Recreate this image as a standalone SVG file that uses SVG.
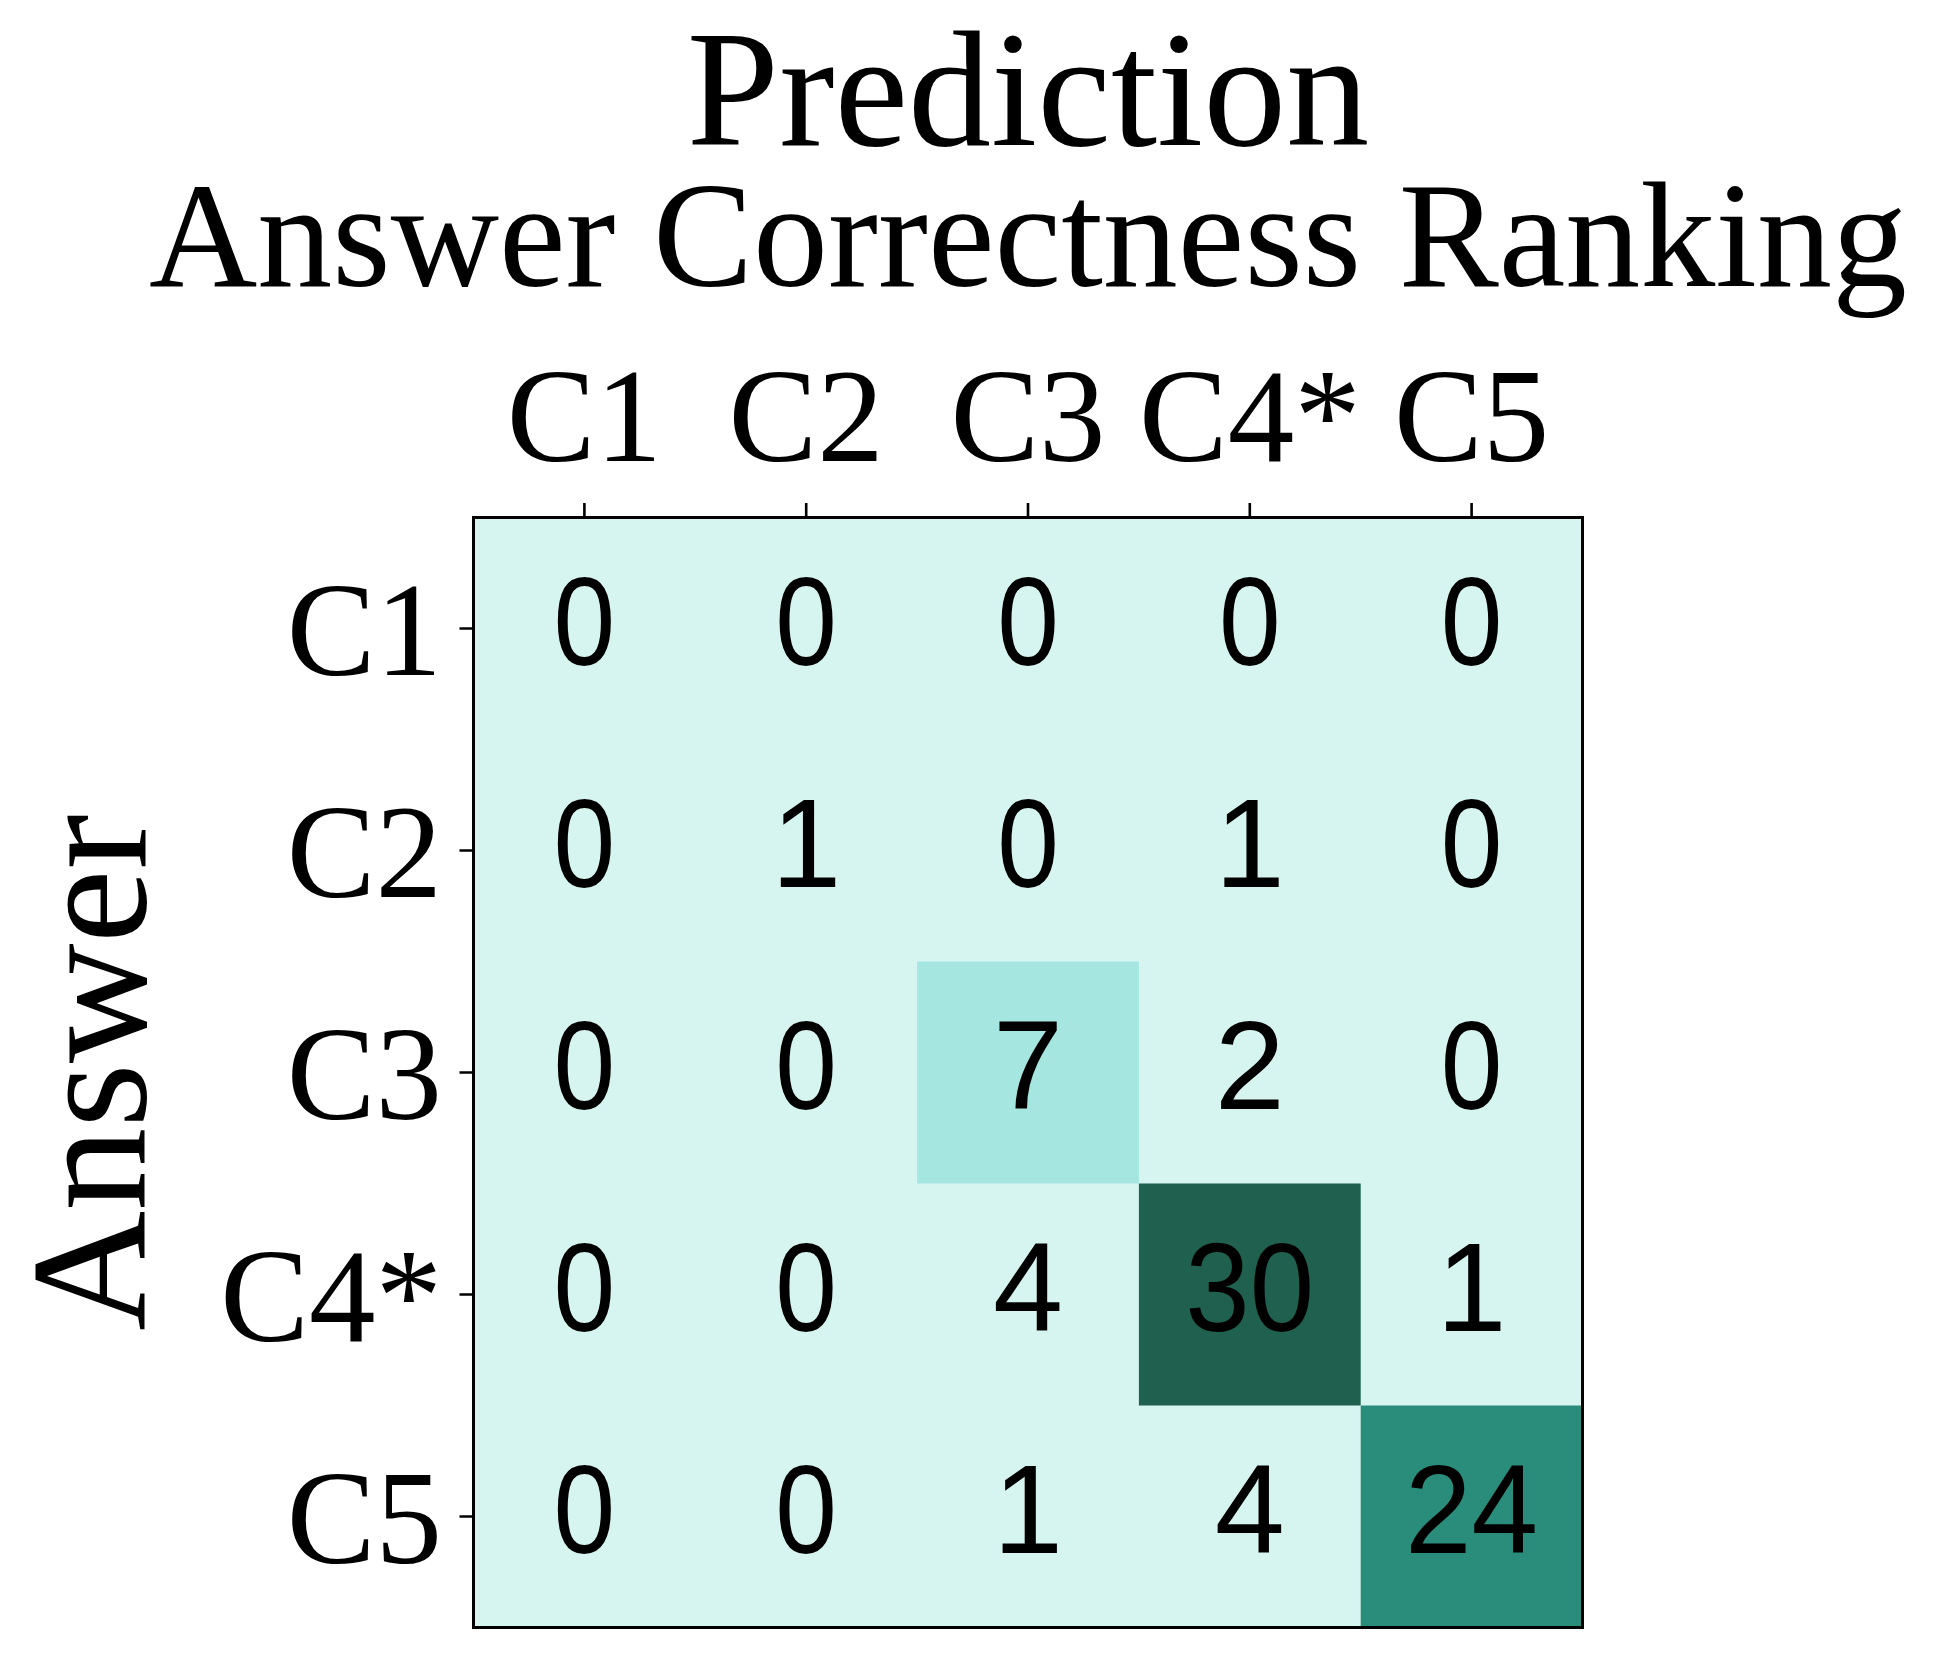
<svg xmlns="http://www.w3.org/2000/svg" width="1937" height="1657" viewBox="0 0 1937 1657">
<style>
.serif{font-family:"Liberation Serif","Times New Roman",serif;fill:#000}
.num{font-family:"Liberation Sans",Arial,sans-serif;font-size:126px;text-anchor:middle;fill:#000}
.tick{stroke:#000;stroke-width:2.6;fill:none}
.xt{font-size:133px;text-anchor:middle}
.yt{font-size:133px;text-anchor:end}
</style>
<rect width="1937" height="1657" fill="#ffffff"/>
<g id="titles">
<text class="serif" x="1028" y="145" font-size="166" text-anchor="middle">Prediction</text>
<text class="serif" x="1028" y="286" font-size="150" text-anchor="middle">Answer Correctness Ranking</text>
<text class="serif" transform="translate(145,1072.5) rotate(-90)" font-size="166" text-anchor="middle">Answer</text>
</g>
<g id="cells">
<rect x="473.5" y="517.5" width="1109" height="1110" fill="#d7f5f0"/>
<rect x="917.1" y="961.5" width="221.8" height="222" fill="#a5e6e1"/>
<rect x="1138.9" y="1183.5" width="221.8" height="222" fill="#1f614e"/>
<rect x="1360.7" y="1405.5" width="221.8" height="222" fill="#2a8c7a"/>
</g>
<g id="values">
<text class="num" transform="translate(584.4,665) scale(0.88,1)">0</text>
<text class="num" transform="translate(806.2,665) scale(0.88,1)">0</text>
<text class="num" transform="translate(1028,665) scale(0.88,1)">0</text>
<text class="num" transform="translate(1249.8,665) scale(0.88,1)">0</text>
<text class="num" transform="translate(1471.6,665) scale(0.88,1)">0</text>
<text class="num" transform="translate(584.4,887) scale(0.88,1)">0</text>
<text class="num" x="806.2" y="887">1</text>
<text class="num" transform="translate(1028,887) scale(0.88,1)">0</text>
<text class="num" x="1249.8" y="887">1</text>
<text class="num" transform="translate(1471.6,887) scale(0.88,1)">0</text>
<text class="num" transform="translate(584.4,1109) scale(0.88,1)">0</text>
<text class="num" transform="translate(806.2,1109) scale(0.88,1)">0</text>
<text class="num" x="1028" y="1109">7</text>
<text class="num" x="1249.8" y="1109">2</text>
<text class="num" transform="translate(1471.6,1109) scale(0.88,1)">0</text>
<text class="num" transform="translate(584.4,1331) scale(0.88,1)">0</text>
<text class="num" transform="translate(806.2,1331) scale(0.88,1)">0</text>
<text class="num" x="1028" y="1331">4</text>
<text class="num" transform="translate(1249.8,1331) scale(0.92,1)">30</text>
<text class="num" x="1471.6" y="1331">1</text>
<text class="num" transform="translate(584.4,1553) scale(0.88,1)">0</text>
<text class="num" transform="translate(806.2,1553) scale(0.88,1)">0</text>
<text class="num" x="1028" y="1553">1</text>
<text class="num" x="1249.8" y="1553">4</text>
<text class="num" transform="translate(1471.6,1553) scale(0.95,1)">24</text>
</g>
<g id="axes">
<rect x="473.5" y="517.5" width="1109" height="1110" fill="none" stroke="#000" stroke-width="3"/>
<path class="tick" d="M584.4 503V517.5M806.2 503V517.5M1028 503V517.5M1249.8 503V517.5M1471.6 503V517.5"/>
<path class="tick" d="M459.5 628.5H473.5M459.5 850.5H473.5M459.5 1072.5H473.5M459.5 1294.5H473.5M459.5 1516.5H473.5"/>
</g>
<g id="xticklabels">
<text class="serif xt" x="584.4" y="461">C1</text>
<text class="serif xt" x="806.2" y="461">C2</text>
<text class="serif xt" x="1028" y="461">C3</text>
<text class="serif xt" x="1249.8" y="461">C4*</text>
<text class="serif xt" x="1471.6" y="461">C5</text>
</g>
<g id="yticklabels">
<text class="serif yt" x="442" y="675">C1</text>
<text class="serif yt" x="442" y="897">C2</text>
<text class="serif yt" x="442" y="1119">C3</text>
<text class="serif yt" x="442" y="1341">C4*</text>
<text class="serif yt" x="442" y="1563">C5</text>
</g>
</svg>
